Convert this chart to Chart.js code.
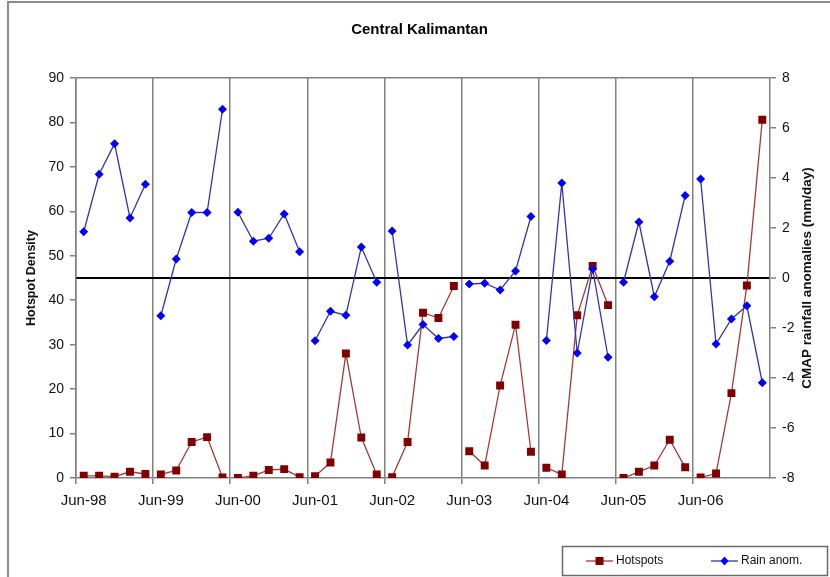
<!DOCTYPE html>
<html>
<head>
<meta charset="utf-8">
<script src="https://cdn.jsdelivr.net/npm/chart.js@4.4.1/dist/chart.umd.min.js"></script>
<style>
  html, body { margin: 0; padding: 0; background: #fff; }
  canvas { display: block; }
</style>
</head>
<body>
<canvas id="chart" width="830" height="577"></canvas>
<script>
// one tick label per year, five readings per year
const yearLabels = ['Jun-98', 'Jun-99', 'Jun-00', 'Jun-01', 'Jun-02', 'Jun-03', 'Jun-04', 'Jun-05', 'Jun-06'];
const perYear = 5;

const hotspots = [
  0.5, 0.5, 0.3, 1.4, 0.9,      // 98
  0.8, 1.7, 8.1, 9.2, 0.1,      // 99
  0.0, 0.5, 1.8, 2.0, 0.2,      // 00
  0.4, 3.5, 28.0, 9.1, 0.8,     // 01
  0.2, 8.1, 37.2, 36.0, 43.2,   // 02
  6.0, 2.8, 20.8, 34.5, 5.9,    // 03
  2.3, 0.8, 36.6, 47.7, 38.9,   // 04
  0.0, 1.4, 2.8, 8.6, 2.4,      // 05
  0.1, 1.0, 19.1, 43.3, 80.6    // 06
];

const rainAnom = [
  1.85, 4.15, 5.37, 2.40, 3.75,
  -1.51, 0.76, 2.62, 2.62, 6.75,
  2.63, 1.47, 1.59, 2.56, 1.05,
  -2.51, -1.33, -1.49, 1.24, -0.17,
  1.88, -2.68, -1.86, -2.42, -2.34,
  -0.24, -0.21, -0.48, 0.28, 2.46,
  -2.50, 3.80, -3.00, 0.36, -3.17,
  -0.17, 2.24, -0.75, 0.67, 3.30,
  3.96, -2.64, -1.64, -1.11, -4.19
];

const labels = yearLabels.flatMap(y => [y, '', '', '', '']);

const font = '"Liberation Sans", Arial, sans-serif';
const gridGray = '#808080';
const hotLine = '#a33a3a';
const hotMark = '#800000';
const rainLine = '#3535a8';
const rainMark = '#0000ff';
const area = { left: 76, top: 78, right: 770, bottom: 478 };
const pad = { left: 9, right: 0, top: 0, bottom: 0 };

Chart.defaults.font.family = font;
Chart.defaults.color = '#111';

const frame = {
  id: 'frame',
  beforeDraw(chart) {
    const ctx = chart.ctx;
    ctx.save();
    ctx.strokeStyle = '#8c8c8c';
    ctx.lineWidth = 2;
    ctx.strokeRect(8, 2, chart.width + 20, chart.height + 20);
    ctx.restore();
  }
};

// right title reads bottom-to-top like the left one
const rightTitle = {
  id: 'rightTitle',
  afterDraw(chart) {
    const ctx = chart.ctx;
    ctx.save();
    ctx.translate(807, (area.top + area.bottom) / 2);
    ctx.rotate(-Math.PI / 2);
    ctx.font = 'bold 13.5px ' + font;
    ctx.fillStyle = '#111';
    ctx.textAlign = 'center';
    ctx.textBaseline = 'middle';
    ctx.fillText('CMAP rainfall anomalies (mm/day)', 0, 0);
    ctx.restore();
  }
};

const boxLegend = {
  id: 'boxLegend',
  afterDraw(chart) {
    const ctx = chart.ctx;
    const ds = chart.data.datasets;
    ctx.save();
    ctx.strokeStyle = '#6a6a6a';
    ctx.lineWidth = 1.5;
    ctx.strokeRect(562.5, 546.5, 265, 29);
    const y = 561;
    const items = [{ d: ds[0], x: 586 }, { d: ds[1], x: 711 }];
    ctx.font = '12px ' + font;
    ctx.textBaseline = 'middle';
    items.forEach(({ d, x }) => {
      ctx.strokeStyle = d.borderColor;
      ctx.lineWidth = 1.3;
      ctx.beginPath();
      ctx.moveTo(x, y);
      ctx.lineTo(x + 27, y);
      ctx.stroke();
      const cx = x + 13.5;
      ctx.fillStyle = d.pointBackgroundColor;
      ctx.beginPath();
      if (d.pointStyle === 'rect') {
        ctx.rect(cx - 4, y - 4, 8, 8);
      } else {
        ctx.moveTo(cx, y - 4.5);
        ctx.lineTo(cx + 4, y);
        ctx.lineTo(cx, y + 4.5);
        ctx.lineTo(cx - 4, y);
        ctx.closePath();
      }
      ctx.fill();
      ctx.fillStyle = '#111';
      ctx.fillText(d.label, x + 30, y);
    });
    ctx.restore();
  }
};

new Chart(document.getElementById('chart'), {
  type: 'line',
  data: {
    labels: labels,
    datasets: [
      {
        label: 'Hotspots',
        data: hotspots,
        yAxisID: 'y',
        order: 1,
        borderColor: hotLine,
        borderWidth: 1.3,
        pointStyle: 'rect',
        pointRadius: 5.6,
        pointBackgroundColor: hotMark,
        pointBorderColor: hotMark,
        pointBorderWidth: 0,
        segment: {
          borderColor: ctx => ctx.p1DataIndex % perYear === 0 ? 'transparent' : hotLine
        }
      },
      {
        label: 'Rain anom.',
        data: rainAnom,
        yAxisID: 'y1',
        order: 0,
        borderColor: rainLine,
        borderWidth: 1.3,
        pointStyle: 'rectRot',
        pointRadius: 4.5,
        pointBackgroundColor: rainMark,
        pointBorderColor: rainMark,
        pointBorderWidth: 0,
        segment: {
          borderColor: ctx => ctx.p1DataIndex % perYear === 0 ? 'transparent' : rainLine
        }
      }
    ]
  },
  options: {
    responsive: false,
    animation: false,
    layout: { padding: pad },
    plugins: {
      legend: { display: false },
      tooltip: { enabled: false },
      title: {
        display: true,
        text: 'Central Kalimantan',
        color: '#000',
        font: { size: 15, weight: 'bold' },
        padding: { top: 21, bottom: 39 }
      }
    },
    scales: {
      x: {
        type: 'category',
        offset: true,
        grid: {
          offset: true,
          color: ctx => ctx.index % perYear === 0 ? gridGray : 'transparent',
          lineWidth: 1.5,
          tickLength: 6
        },
        border: { color: gridGray, width: 1.5 },
        ticks: {
          autoSkip: false,
          maxRotation: 0,
          minRotation: 0,
          padding: 8,
          font: { size: 15 }
        },
        afterFit: s => { s.height = 577 - area.bottom - pad.bottom; }
      },
      y: {
        position: 'left',
        min: 0,
        max: 90,
        ticks: { stepSize: 10, padding: 6, font: { size: 14 } },
        grid: {
          color: ctx => ctx.tick && ctx.tick.value === 90 ? gridGray : 'transparent',
          tickColor: gridGray,
          lineWidth: 1.5,
          tickLength: 6
        },
        border: { color: gridGray, width: 1.5 },
        title: {
          display: true,
          text: 'Hotspot Density',
          color: '#111',
          font: { size: 12.5, weight: 'bold' },
          padding: { top: 15.5, bottom: 0 }
        },
        afterFit: s => { s.width = area.left - pad.left; }
      },
      y1: {
        position: 'right',
        min: -8,
        max: 8,
        ticks: { stepSize: 2, padding: 6, font: { size: 14 } },
        grid: {
          color: ctx => ctx.tick && ctx.tick.value === 0 ? '#000' : 'transparent',
          lineWidth: ctx => ctx.tick && ctx.tick.value === 0 ? 2 : 1.5,
          tickColor: gridGray,
          tickWidth: 1.5,
          tickLength: 6
        },
        border: { color: gridGray, width: 1.5 },
        afterFit: s => { s.width = 830 - area.right - pad.right; }
      }
    }
  },
  plugins: [frame, rightTitle, boxLegend]
});
</script>
</body>
</html>
